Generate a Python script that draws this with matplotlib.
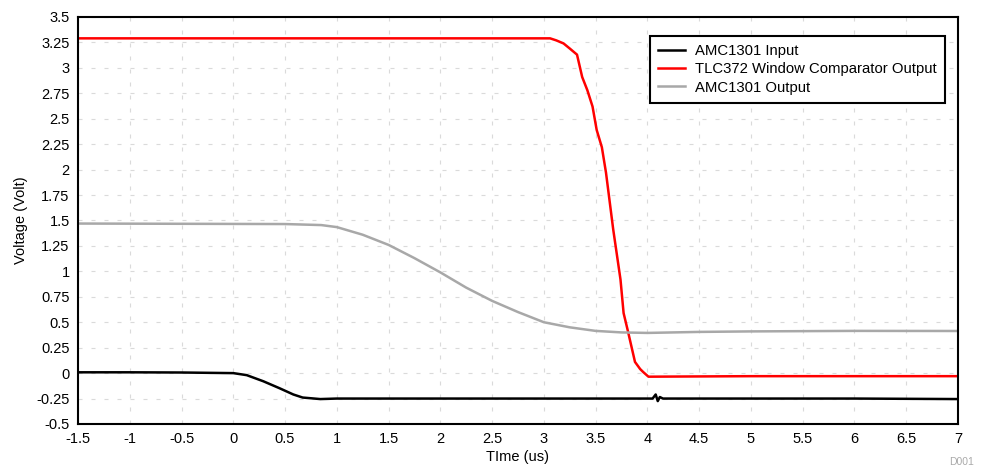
import matplotlib
matplotlib.use('Agg')
import matplotlib.pyplot as plt
import numpy as np

plt.rcParams.update({
    'font.family': ['Liberation Sans', 'DejaVu Sans'],
    'font.size': 10,
})

# AMC1301 input (black)
t_in = [-1.5, -1.0, -0.5, 0.0, 0.13, 0.29, 0.45, 0.58, 0.67, 0.84, 1.0,
        2.0, 3.0, 4.05, 4.08, 4.1, 4.12, 4.15, 5.0, 6.0, 7.0]
v_in = [0.008, 0.008, 0.006, 0.0, -0.02, -0.08, -0.15, -0.21, -0.24, -0.255, -0.25,
        -0.25, -0.25, -0.25, -0.21, -0.275, -0.235, -0.25,
        -0.25, -0.25, -0.255]

# TLC372 window comparator output (red)
t_cmp = [-1.5, 3.0, 3.06, 3.12, 3.19, 3.25, 3.32, 3.37, 3.42, 3.47, 3.51, 3.56,
         3.60, 3.67, 3.74, 3.77, 3.81, 3.88, 3.93, 3.96, 4.01, 5.0, 7.0]
v_cmp = [3.29, 3.29, 3.29, 3.27, 3.24, 3.19, 3.13, 2.91, 2.78, 2.62, 2.39, 2.22,
         1.97, 1.41, 0.92, 0.59, 0.42, 0.11, 0.04, 0.01, -0.035, -0.03, -0.03]

# AMC1301 output (gray)
t_out = [-1.5, 0.5, 0.85, 1.0, 1.25, 1.5, 1.75, 2.0, 2.25, 2.5, 2.75, 3.0,
         3.25, 3.5, 3.75, 4.0, 4.5, 5.0, 6.0, 7.0]
v_out = [1.47, 1.465, 1.455, 1.435, 1.36, 1.26, 1.13, 0.99, 0.84, 0.71, 0.60, 0.50,
         0.45, 0.415, 0.40, 0.395, 0.405, 0.41, 0.415, 0.414]

xticks = np.arange(-1.5, 7.01, 0.5)
yticks = np.arange(-0.5, 3.51, 0.25)

fig = plt.figure(figsize=(9.86, 4.73), dpi=100)
ax = fig.add_axes([0.0791, 0.1036, 0.8925, 0.8605])

ax.plot(t_in, v_in, color='black', lw=1.8, label='AMC1301 Input')
ax.plot(t_cmp, v_cmp, color='#ff0000', lw=1.8, label='TLC372 Window Comparator Output')
ax.plot(t_out, v_out, color='#a8a8a8', lw=1.8, label='AMC1301 Output')

ax.set_xlim(-1.5, 7)
ax.set_ylim(-0.5, 3.5)
ax.set_xticks(xticks)
ax.set_yticks(yticks)
ax.set_xticklabels([f'{v:g}' for v in xticks])
ax.set_yticklabels([f'{v:g}' for v in yticks])
ax.tick_params(length=0, pad=6, labelsize=10.5)
ax.grid(True, color='#dadada', linestyle=(0, (3.6, 8.1)), lw=0.8)
ax.set_axisbelow(True)
for s in ax.spines.values():
    s.set_linewidth(1.5)

ax.set_xlabel('TIme (us)', fontsize=10.5, labelpad=3)
ax.set_ylabel('Voltage (Volt)', fontsize=10.5, labelpad=6)

leg = ax.legend(loc='upper right', bbox_to_anchor=(0.985, 0.953), borderaxespad=0,
                fancybox=False, framealpha=1, edgecolor='black', fontsize=10.7,
                handlelength=1.8, handletextpad=0.65, borderpad=0.55,
                labelspacing=0.28)
leg.get_frame().set_linewidth(1.5)

fig.text(0.988, 0.012, 'D001', ha='right', va='bottom', fontsize=7.5, color='#aaaaaa')

fig.savefig('out.png', dpi=100)
